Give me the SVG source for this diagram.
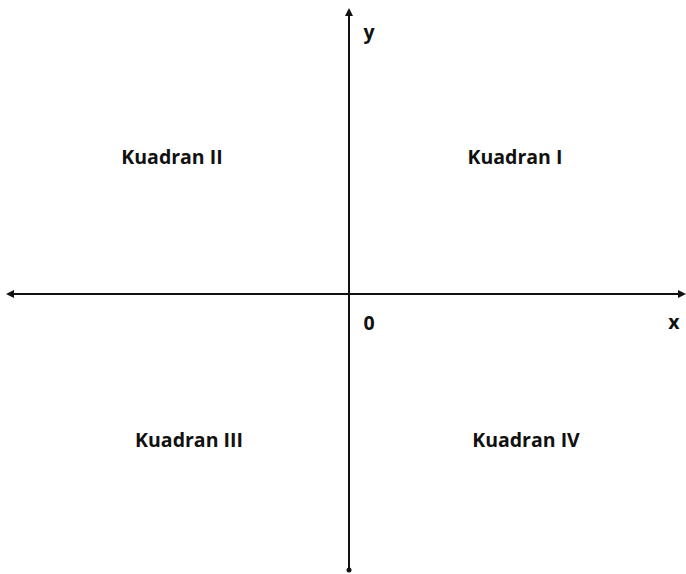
<svg xmlns="http://www.w3.org/2000/svg" width="686" height="574" viewBox="0 0 686 574">
<style>
.ax{stroke:#111;stroke-width:2;fill:none}
.lbl{font-family:"Open Sans","Liberation Sans",sans-serif;font-weight:700;font-size:19.5px;fill:#111}
</style>
<defs>
<marker id="ah" viewBox="0 0 10 10" refX="5" refY="5" markerWidth="4" markerHeight="4" orient="auto-start-reverse">
<path d="M0,0 L10,5 L0,10 z" fill="#111"/>
</marker>
</defs>
<rect width="686" height="574" fill="#fff"/>
<g id="connectors">
<line class="ax" x1="10" y1="294" x2="682" y2="294" marker-start="url(#ah)" marker-end="url(#ah)"/>
<line class="ax" x1="349" y1="12" x2="349" y2="570" marker-start="url(#ah)"/>
<circle cx="349" cy="570" r="2.5" fill="#111"/>
</g>
<g id="label-y"><text class="lbl" x="369" y="39" text-anchor="middle">y</text></g>
<g id="label-x"><text class="lbl" x="674" y="329" text-anchor="middle">x</text></g>
<g id="label-0"><text class="lbl" x="369" y="330" text-anchor="middle">0</text></g>
<g id="q1"><text class="lbl" x="515" y="164" text-anchor="middle">Kuadran I</text></g>
<g id="q2"><text class="lbl" x="172" y="164" text-anchor="middle">Kuadran II</text></g>
<g id="q3"><text class="lbl" x="189" y="447" text-anchor="middle">Kuadran III</text></g>
<g id="q4"><text class="lbl" x="526" y="447" text-anchor="middle">Kuadran IV</text></g>
</svg>
